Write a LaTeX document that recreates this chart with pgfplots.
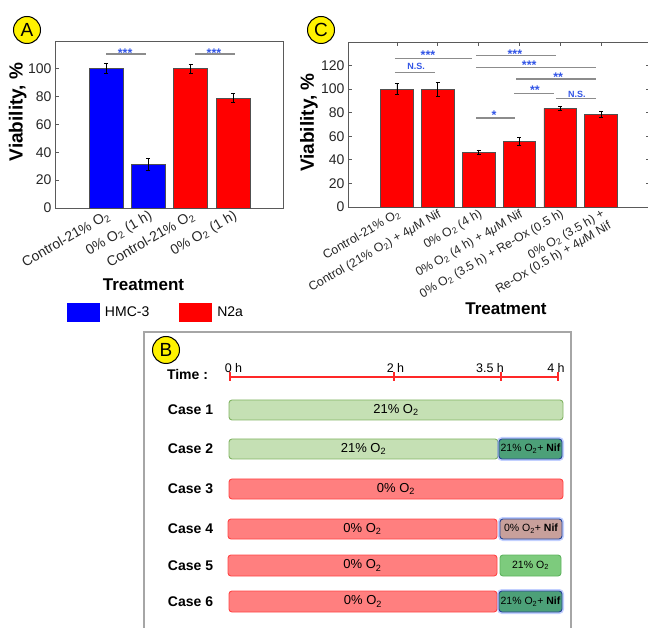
\documentclass[border=0pt]{standalone}
\usepackage{pgfplots}
\usepackage{pgfplotstable}
\pgfplotsset{compat=1.18}
\usepackage{fontspec}
\setmainfont{Liberation Sans}

\definecolor{barblue}{RGB}{0,0,255}
\definecolor{barred}{RGB}{255,0,0}
\definecolor{baredge}{RGB}{80,80,80}
\definecolor{sigblue}{RGB}{50,85,230}
\definecolor{siggray}{RGB}{140,140,140}
\definecolor{tickgray}{RGB}{38,38,38}
\definecolor{spine}{RGB}{90,90,90}
\definecolor{boxgray}{RGB}{166,166,166}
\definecolor{lightgreen}{RGB}{197,224,180}
\definecolor{lightgreenedge}{RGB}{130,180,100}
\definecolor{nifgreen}{RGB}{76,160,120}
\definecolor{pinkfill}{RGB}{255,127,127}
\definecolor{pinkedge}{RGB}{255,70,70}
\definecolor{rosy}{RGB}{200,160,155}
\definecolor{midgreen}{RGB}{125,203,125}
\definecolor{midgreenedge}{RGB}{95,180,95}
\definecolor{nifedge}{RGB}{40,70,150}
\definecolor{glow}{RGB}{120,150,255}
\definecolor{timered}{RGB}{255,40,40}

\newcommand\fs[2]{\fontsize{#1}{#2}\selectfont}

% Panel A: viability after 1 h anoxia
\pgfplotstableread{
x y err
1 100 3.6
2 31.5 4.2
}\hmcdata
\pgfplotstableread{
x y err
3 100 3.5
4 79 3.4
}\ntwoadata
% Panel C: N2a viability, six treatments
\pgfplotstableread{
x y err
1 100 4.5
2 100 6
3 46.4 2
4 55.6 3.5
5 83.6 2
6 78.8 2.7
}\cdata

\pgfplotsset{
  rectlegend/.style={legend image code/.code={\fill[##1,draw=none] (0pt,-9.5pt) rectangle (33pt,9.5pt);}},
  barstyle/.style={ybar, bar width=0.8, bar shift=0pt, draw=baredge, line width=0.7pt,
    error bars/y dir=both, error bars/y explicit,
    error bars/error bar style={black, line width=0.8pt},
    error bars/error mark options={rotate=90, mark size=2pt, black, line width=0.8pt}},
  sigline/.style={siggray, line width=1.5pt, mark=none, forget plot},
}
\tikzset{
  sigstar/.style={font=\bfseries\fs{12.5}{14}, text=sigblue, anchor=base, yshift=-7pt, inner sep=0pt},
  signs/.style={font=\bfseries\fs{9}{11}, text=sigblue, anchor=base, yshift=-3.2pt, inner sep=0pt},
  panel/.style={circle, draw=black, line width=1pt, fill=yellow, minimum size=27pt, inner sep=0pt, font=\fs{19}{20}},
  casebar/.style={rounded corners=3pt, line width=0.9pt},
  caselbl/.style={font=\bfseries\fs{14}{16}},
  bartxt/.style={font=\fs{13}{15}},
  smalltxt/.style={font=\fs{10.5}{12}},
}

\begin{document}
\begin{tikzpicture}[x=1pt,y=1pt]
\useasboundingbox (0,0) rectangle (648,627);

% ---------------- Panel A ----------------
\begin{axis}[
  at={(55pt,419pt)}, anchor=south west,
  width=228pt, height=167pt, scale only axis,
  xmin=-0.206, xmax=5.18, ymin=0, ymax=120,
  axis line style={draw=spine, line width=0.9pt},
  ytick={0,20,...,100}, ytick pos=left,
  tick align=inside, major tick length=4pt,
  tick style={spine, line width=0.8pt},
  xtick={1,2,3,4}, x tick style={draw=none},
  xticklabels={Control-21\% O\textsubscript{2}, 0\% O\textsubscript{2} (1 h), Control-21\% O\textsubscript{2}, 0\% O\textsubscript{2} (1 h)},
  tick label style={font=\fs{14}{16}, text=tickgray},
  x tick label style={rotate=30, anchor=north east, inner sep=1pt},
  /pgf/number format/assume math mode=true,
  xlabel={Treatment}, ylabel={Viability, \%},
  xlabel style={at={(rel axis cs:0.388,-0.461)}, anchor=center, font=\bfseries\fs{17}{20}},
  ylabel style={at={(rel axis cs:-0.164,0.575)}, anchor=center, font=\bfseries\fs{19}{22}},
  legend columns=2,
  legend style={at={(0.0526,-0.6257)}, anchor=west, draw=none, fill=none,
    inner sep=0pt, outer sep=0pt, font=\fs{14}{16},
    /tikz/every odd column/.append style={column sep=3pt},
    /tikz/every even column/.append style={column sep=28pt}},
  legend cell align=left,
  clip=false,
]
\addplot[barstyle, fill=barblue, rectlegend] table[x=x, y=y, y error=err] {\hmcdata};
\addplot[barstyle, fill=barred, rectlegend] table[x=x, y=y, y error=err] {\ntwoadata};
\legend{HMC-3, N2a}
\addplot[sigline] coordinates {(1.0,110.6) (1.95,110.6)};
\addplot[sigline] coordinates {(3.1,110.6) (4.05,110.6)};
\node[sigstar] at (axis cs:1.45,113.2) {***};
\node[sigstar] at (axis cs:3.55,113.2) {***};
\end{axis}

% ---------------- Panel C ----------------
\begin{axis}[
  at={(348pt,420pt)}, anchor=south west,
  width=302pt, height=165pt, scale only axis,
  xmin=-0.2, xmax=7.2, ymin=0, ymax=140,
  axis line style={draw=spine, line width=0.9pt},
  ytick={0,20,...,120}, xtick={1,...,6},
  tick align=inside, major tick length=4pt,
  tick style={spine, line width=0.8pt},
  xticklabels={
    Control-21\% O\textsubscript{2},
    Control (21\% O\textsubscript{2}) + 4\textit{μ}M Nif,
    0\% O\textsubscript{2} (4 h),
    0\% O\textsubscript{2} (4 h) + 4\textit{μ}M Nif,
    0\% O\textsubscript{2} (3.5 h) + Re-Ox (0.5 h),
    {0\% O\textsubscript{2} (3.5 h) +\\Re-Ox (0.5 h) + 4\textit{μ}M Nif}},
  tick label style={text=tickgray},
  y tick label style={font=\fs{14}{16}},
  x tick label style={rotate=30, anchor=north east, inner sep=1pt, align=right, font=\fs{12.3}{13.5}},
  /pgf/number format/assume math mode=true,
  xlabel={Treatment}, ylabel={Viability, \%},
  xlabel style={at={(rel axis cs:0.523,-0.618)}, anchor=center, font=\bfseries\fs{17}{20}},
  ylabel style={at={(rel axis cs:-0.129,0.512)}, anchor=center, font=\bfseries\fs{19}{22}},
  clip=false,
]
\addplot[barstyle, fill=barred] table[x=x, y=y, y error=err] {\cdata};
\addplot[sigline] coordinates {(0.95,126.2) (2.84,126.2)};
\addplot[sigline] coordinates {(0.95,114.3) (1.93,114.3)};
\addplot[sigline] coordinates {(2.94,128.4) (4.90,128.4)};
\addplot[sigline] coordinates {(2.94,118.2) (5.88,118.2)};
\addplot[sigline] coordinates {(3.92,108.6) (5.88,108.6)};
\addplot[sigline] coordinates {(3.87,96.5) (4.85,96.5)};
\addplot[sigline] coordinates {(4.90,92.2) (5.88,92.2)};
\addplot[sigline] coordinates {(2.94,75.5) (3.89,75.5)};
\node[sigstar] at (axis cs:1.76,130.7) {***};
\node[signs]   at (axis cs:1.47,119.6) {N.S.};
\node[sigstar] at (axis cs:3.89,131.8) {***};
\node[sigstar] at (axis cs:4.24,122.2) {***};
\node[sigstar] at (axis cs:4.95,112.8) {**};
\node[sigstar] at (axis cs:4.38,101.0) {**};
\node[signs]   at (axis cs:5.41,95.9) {N.S.};
\node[sigstar] at (axis cs:3.38,79.8) {*};
\end{axis}

% ---------------- Panel B: exposure timeline ----------------
\begin{axis}[
  at={(144pt,0pt)}, anchor=south west,
  width=427pt, height=295pt, scale only axis,
  xmin=144, xmax=571, ymin=0, ymax=295,
  hide axis, clip=false,
]
\draw[boxgray, line width=1.4pt] (rel axis cs:0,-0.01) -- (rel axis cs:0,1) -- (rel axis cs:1,1) -- (rel axis cs:1,-0.01);
% time axis
\addplot[timered, line width=1.3pt, mark=|, mark size=4.5pt, mark options={solid, line width=1.3pt}] coordinates {(230,250) (394,250) (501,250) (558,250)};
\node[font=\fs{12.5}{14}] at (233.5,259) {0 h};
\node[font=\fs{12.5}{14}] at (395.5,259) {2 h};
\node[font=\fs{12.5}{14}] at (490,259) {3.5 h};
\node[font=\fs{12.5}{14}] at (556,259) {4 h};
\node[caselbl] at (187.5,253) {Time :};
% case 1
\node[caselbl] at (190.5,217) {Case 1};
\draw[casebar, fill=lightgreen, draw=lightgreenedge] (229,207) rectangle (563,227);
\node[bartxt] at (396,217) {21\% O\textsubscript{2}};
% case 2
\node[caselbl] at (190.5,178) {Case 2};
\draw[casebar, fill=lightgreen, draw=lightgreenedge] (229,168) rectangle (498,188);
\node[bartxt] at (363.5,178) {21\% O\textsubscript{2}};
\draw[glow, line width=4pt, opacity=0.45, rounded corners=3pt] (499,168) rectangle (562,188);
\draw[casebar, fill=nifgreen, draw=nifedge] (499,168) rectangle (562,188);
\node[smalltxt] at (530.5,178) {21\% O\textsubscript{2}+ \textbf{Nif}};
% case 3
\node[caselbl] at (190.5,138) {Case 3};
\draw[casebar, fill=pinkfill, draw=pinkedge] (229,128) rectangle (563,148);
\node[bartxt] at (396,138) {0\% O\textsubscript{2}};
% case 4
\node[caselbl] at (190.5,98) {Case 4};
\draw[casebar, fill=pinkfill, draw=pinkedge] (228,88) rectangle (497,108);
\node[bartxt] at (362.5,98) {0\% O\textsubscript{2}};
\draw[glow, line width=4pt, opacity=0.45, rounded corners=3pt] (500,88) rectangle (562,108);
\draw[casebar, fill=rosy, draw=nifedge] (500,88) rectangle (562,108);
\node[smalltxt] at (531,98) {0\% O\textsubscript{2}+ \textbf{Nif}};
% case 5
\node[caselbl] at (190.5,61.5) {Case 5};
\draw[casebar, fill=pinkfill, draw=pinkedge] (228,51) rectangle (497,72);
\node[bartxt] at (362.5,61.5) {0\% O\textsubscript{2}};
\draw[casebar, fill=midgreen, draw=midgreenedge] (500,51) rectangle (561,72);
\node[smalltxt] at (530.5,61.5) {21\% O\textsubscript{2}};
% case 6
\node[caselbl] at (190.5,25.5) {Case 6};
\draw[casebar, fill=pinkfill, draw=pinkedge] (229,15) rectangle (497,36);
\node[bartxt] at (363,25.5) {0\% O\textsubscript{2}};
\draw[glow, line width=4pt, opacity=0.45, rounded corners=3pt] (499,15) rectangle (562,36);
\draw[casebar, fill=nifgreen, draw=nifedge] (499,15) rectangle (562,36);
\node[smalltxt] at (530.5,25.5) {21\% O\textsubscript{2}+ \textbf{Nif}};
\end{axis}

% panel letters
\node[panel] at (27pt,597pt) {A};
\node[panel] at (321pt,597pt) {C};
\node[panel] at (166pt,277pt) {B};
\end{tikzpicture}
\end{document}
